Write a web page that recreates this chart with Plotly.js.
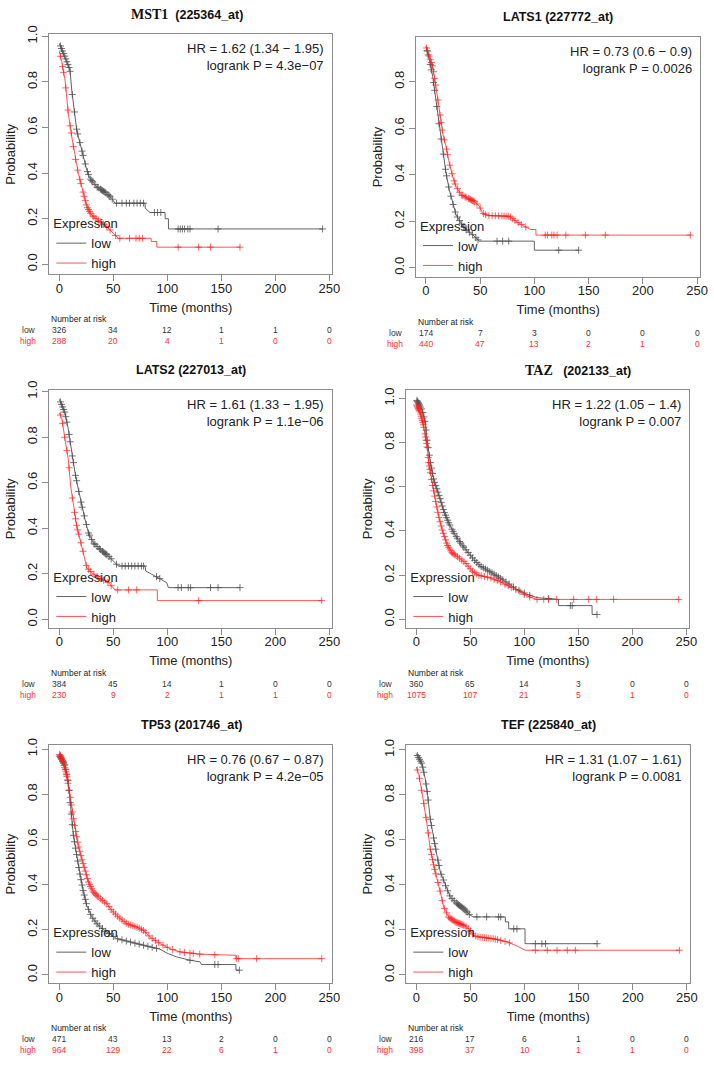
<!DOCTYPE html>
<html>
<head>
<meta charset="utf-8">
<script src="https://cdn.plot.ly/plotly-3.0.1.min.js"></script>
<style>
html, body { margin: 0; padding: 0; background: #fff; }
#chart { width: 714px; height: 1065px; }
</style>
</head>
<body>
<div id="chart"></div>
<script>
// ---- Kaplan-Meier curves (time in months, survival prob) ----

// MST1 (225364_at)
const mst1LowT = [0, 5.3, 9.9, 11.5, 13, 16.1, 19.2, 22.3, 25.4, 28.4, 34.6, 43.9, 48.5, 51.6, 79.4, 79.5, 84, 97.9, 98, 101, 101.1, 243.8];
const mst1LowS = [0.969, 0.91, 0.852, 0.764, 0.706, 0.589, 0.53, 0.472, 0.414, 0.377, 0.34, 0.311, 0.289, 0.268, 0.268, 0.246, 0.227, 0.227, 0.2, 0.2, 0.155, 0.155];
const mst1LowCens = [1, 2, 3, 4, 5, 6, 7, 8, 9, 10, 12, 14, 16, 17, 19, 21, 22, 24, 26, 27, 29, 30, 31, 33, 35, 36, 38, 39, 40, 41, 42, 43, 45, 46, 47, 49, 53, 58, 62, 65, 69, 72, 75, 78, 88, 91, 94, 110, 112, 114, 116, 119, 121, 147, 243.8];
const mst1HighT = [0, 2.2, 5.3, 6.8, 8.3, 11.5, 14.5, 17.6, 22.3, 25.4, 30, 37.7, 43.9, 50, 54.6, 85, 85.1, 90.2, 90.3, 167.3];
const mst1HighS = [0.932, 0.889, 0.808, 0.735, 0.662, 0.56, 0.472, 0.399, 0.311, 0.253, 0.216, 0.187, 0.165, 0.136, 0.114, 0.114, 0.1, 0.1, 0.075, 0.075];
const mst1HighCens = [1, 3, 4, 6, 8, 10, 11, 13, 15, 17, 19, 20, 22, 23, 24, 25, 26, 27, 28, 29, 31, 32, 34, 36, 38, 41, 44, 47, 52, 56, 65, 71, 74, 77, 110, 129, 140, 167.3];
const mst1RiskLow = [326, 34, 12, 1, 1, 0];
const mst1RiskHigh = [288, 20, 4, 1, 0, 0];

// LATS1 (227772_at)
const lats1LowT = [0, 3.1, 6.2, 9.2, 12.3, 15.4, 18.5, 21.5, 24.6, 27.7, 32.3, 36.9, 43, 49.2, 99.9, 100, 140.8];
const lats1LowS = [0.952, 0.895, 0.823, 0.723, 0.608, 0.508, 0.407, 0.335, 0.278, 0.228, 0.192, 0.163, 0.142, 0.114, 0.114, 0.075, 0.075];
const lats1LowCens = [1, 2, 4, 5, 7, 8, 10, 12, 14, 16, 18, 19, 21, 23, 25, 27, 29, 31, 33, 35, 37, 40, 43, 46, 48, 65.5, 70.7, 76.3, 122.4, 140.8];
const lats1HighT = [0, 6.2, 9.2, 12.3, 15.4, 18.5, 21.5, 24.6, 27.7, 32.3, 38.4, 44.5, 49.2, 52.2, 56.8, 76.8, 83, 90.6, 96.8, 101.4, 101.5, 243.8];
const lats1HighS = [0.952, 0.866, 0.78, 0.679, 0.579, 0.522, 0.45, 0.393, 0.35, 0.314, 0.299, 0.285, 0.264, 0.235, 0.224, 0.221, 0.2, 0.178, 0.164, 0.164, 0.14, 0.14];
const lats1HighCens = [0.5, 1.5, 3, 4, 5, 6, 7, 8, 9, 11, 13, 14, 15, 17, 19, 20, 22, 24, 26, 27, 29, 31, 33, 34, 36, 37, 39, 40, 41, 42, 43, 44, 45, 47, 50, 53, 55, 58, 61, 64, 67, 70, 72, 74, 76, 78, 80, 82, 85, 88, 92, 110, 112, 116, 118, 121, 129, 147, 165.4, 243.8];
const lats1RiskLow = [174, 7, 3, 0, 0, 0];
const lats1RiskHigh = [440, 47, 13, 2, 1, 0];

// LATS2 (227013_at)
const lats2LowT = [0, 5.3, 8.3, 11.5, 14.5, 17.6, 20.7, 23.8, 26.9, 31.5, 37.7, 45.4, 50, 54.6, 79.4, 80, 85.5, 91.7, 99.4, 101, 167.3];
const lats2LowS = [0.966, 0.907, 0.834, 0.732, 0.644, 0.571, 0.498, 0.439, 0.38, 0.336, 0.307, 0.278, 0.256, 0.234, 0.234, 0.212, 0.198, 0.183, 0.161, 0.139, 0.139];
const lats2LowCens = [1, 2, 3, 4, 5, 6, 7, 9, 10, 12, 13, 15, 16, 18, 20, 21, 23, 25, 27, 28, 30, 32, 33, 35, 37, 38, 40, 41, 42, 43, 44, 46, 48, 53, 58, 61, 64, 67, 70, 73, 76, 78, 90, 93, 110, 113, 119.4, 121.6, 140, 147, 167.3];
const lats2HighT = [0, 2.2, 5.3, 8.3, 10.5, 13, 16.1, 19.2, 22.3, 25.4, 30, 36.1, 45.4, 51.6, 90.7, 90.8, 243];
const lats2HighS = [0.907, 0.885, 0.79, 0.703, 0.585, 0.498, 0.41, 0.351, 0.293, 0.227, 0.205, 0.183, 0.161, 0.129, 0.129, 0.082, 0.082];
const lats2HighCens = [1, 3, 5, 7, 9, 12, 14, 15, 16, 17, 18, 20, 22, 25, 27, 29, 32, 35, 38, 41, 45, 48, 54, 64, 71.6, 129, 243];
const lats2RiskLow = [384, 45, 14, 1, 0, 0];
const lats2RiskHigh = [230, 9, 2, 1, 1, 0];

// TAZ (202133_at)
const tazLowT = [0, 5.3, 8.3, 9.9, 13, 16.1, 19.2, 22.2, 25.4, 30, 34.6, 40.7, 46.9, 53.1, 59.3, 67, 74.7, 84, 93.2, 102.5, 111.8, 131.7, 131.8, 162.7, 162.8, 167.3];
const tazLowS = [0.995, 0.95, 0.89, 0.814, 0.709, 0.633, 0.588, 0.543, 0.49, 0.437, 0.392, 0.347, 0.309, 0.271, 0.241, 0.219, 0.196, 0.166, 0.136, 0.113, 0.098, 0.09, 0.062, 0.062, 0.022, 0.022];
const tazLowCens = [0.5, 1, 1.5, 2, 2.5, 3, 4, 5, 6, 7, 8, 9, 10, 11, 12, 13, 14, 15, 16, 17, 18, 19, 20, 21, 22, 23, 24, 25, 26, 27, 28, 29, 30, 31, 33, 34, 35, 37, 38, 40, 41, 43, 44, 46, 48, 50, 52, 54, 56, 58, 60, 62, 64, 66, 68, 70, 72, 74, 76, 78, 80, 83, 86, 90, 95, 100, 105, 122.5, 142.6, 144.3, 167.3];
const tazHighT = [0, 3.7, 6.8, 9.9, 11.5, 14.5, 17.6, 20.7, 23.8, 28.4, 33.1, 39.3, 45.4, 51.6, 57.8, 68.5, 76.3, 84, 93.2, 102.5, 111.8, 243];
const tazHighS = [0.973, 0.935, 0.875, 0.784, 0.709, 0.618, 0.543, 0.467, 0.407, 0.339, 0.301, 0.279, 0.256, 0.219, 0.199, 0.188, 0.173, 0.154, 0.133, 0.105, 0.09, 0.09];
const tazHighCens = [0.3, 0.8, 1.3, 1.8, 2.3, 2.8, 3.3, 4, 4.5, 5, 5.5, 6, 6.5, 7, 8, 8.5, 9, 9.5, 10, 11, 11.5, 12, 12.5, 13, 14, 15, 16, 17, 18, 19, 20, 21, 22, 23, 24, 25, 26, 27, 28, 29, 30, 31, 32, 33, 34, 35, 36, 38, 40, 42, 44, 46, 48, 50, 52, 54, 56, 58, 60, 63, 66, 69, 72, 75, 78, 82, 85, 88, 92, 96, 100, 105, 111.7, 118, 122.5, 130, 145.7, 159.6, 167, 182.7, 243];
const tazRiskLow = [360, 65, 14, 3, 0, 0];
const tazRiskHigh = [1075, 107, 21, 5, 1, 0];

// TP53 (201746_at)
const tp53LowT = [0, 5.3, 8.3, 10.5, 13, 16.1, 19.2, 22.3, 25.4, 30, 36.1, 43.9, 53.1, 65.5, 80.9, 93.2, 100.9, 108.6, 121, 130.2, 131.8, 163.5, 163.6, 166.7];
const tp53LowS = [0.972, 0.928, 0.854, 0.736, 0.618, 0.53, 0.441, 0.367, 0.308, 0.257, 0.22, 0.19, 0.161, 0.146, 0.128, 0.114, 0.094, 0.08, 0.065, 0.058, 0.046, 0.046, 0.021, 0.021];
const tp53LowCens = [0.5, 1, 1.5, 2, 3, 3.5, 4, 5, 6, 7, 8, 9, 10, 11, 12, 13, 14, 15, 16, 17, 18, 19, 20, 21, 22, 23, 24, 25, 27, 29, 31, 33, 35, 37, 40, 43, 46, 50, 54, 58, 62, 66, 70, 74, 78, 82, 86, 90, 121, 144, 147, 166.7];
const tp53HighT = [0, 3.7, 6.8, 9.3, 11.5, 14.5, 17.6, 20.7, 23.8, 26.9, 31.5, 37.7, 43.9, 48.5, 54.6, 62.4, 71.7, 77.8, 84, 93.2, 102.5, 111.8, 130.2, 151.8, 163.5, 163.6, 243];
const tp53HighS = [0.979, 0.942, 0.884, 0.81, 0.736, 0.647, 0.574, 0.515, 0.463, 0.412, 0.367, 0.338, 0.316, 0.286, 0.257, 0.227, 0.212, 0.198, 0.168, 0.139, 0.116, 0.102, 0.092, 0.087, 0.087, 0.072, 0.072];
const tp53HighCens = [0.3, 0.7, 1, 1.5, 2, 2.5, 3, 3.5, 4, 4.5, 5, 5.5, 6, 6.5, 7, 7.5, 8, 9, 10, 11, 12, 13, 14, 15, 16, 17, 18, 19, 20, 21, 22, 23, 24, 25, 26, 27, 28, 29, 30, 31, 32, 33, 34, 35, 36, 38, 40, 42, 44, 46, 48, 50, 52, 54, 56, 58, 60, 62, 64, 66, 68, 70, 72, 74, 76, 78, 80, 83, 86, 89, 92, 96, 100, 105, 111.7, 116, 121, 124, 130, 144, 164, 165.7, 182.7, 243];
const tp53RiskLow = [471, 43, 13, 2, 0, 0];
const tp53RiskHigh = [964, 129, 22, 6, 1, 0];

// TEF (225840_at)
const tefLowT = [0, 5.3, 8.3, 10.5, 12.9, 16.1, 19.1, 22.2, 26.8, 31.4, 37.6, 43.8, 49.9, 53, 82.2, 82.3, 85.3, 85.4, 100.4, 100.5, 167];
const tefLowS = [0.984, 0.939, 0.872, 0.799, 0.695, 0.606, 0.532, 0.458, 0.399, 0.347, 0.317, 0.295, 0.265, 0.258, 0.258, 0.236, 0.236, 0.205, 0.205, 0.139, 0.139];
const tefLowCens = [1, 2, 3, 4, 5, 6, 7, 9, 10, 11, 13, 14, 16, 17, 18, 20, 21, 23, 25, 27, 29, 31, 33, 35, 37, 38, 39, 40, 41, 42, 43, 44, 45, 46, 47, 49, 56, 65, 76, 78, 90, 93, 110, 116, 119.4, 167];
const tefHighT = [0, 2.2, 5.3, 8.3, 10.5, 12.9, 16.1, 19.1, 22.2, 25.3, 29.9, 36, 43.8, 48.4, 53, 57.6, 71.5, 83.8, 93, 100.7, 243];
const tefHighS = [0.924, 0.895, 0.813, 0.724, 0.65, 0.561, 0.487, 0.428, 0.369, 0.302, 0.258, 0.236, 0.221, 0.206, 0.176, 0.169, 0.161, 0.147, 0.129, 0.11, 0.11];
const tefHighCens = [1, 3, 5, 7, 9, 11, 13, 14, 15, 16, 17, 18, 20, 22, 24, 26, 28, 30, 31, 32, 33, 34, 35, 36, 37, 38, 39, 40, 41, 42, 43, 44, 46, 48, 50, 52, 55, 57, 59, 61, 63, 65, 67, 69, 71, 73, 75, 78, 82, 86, 110, 121, 130, 139.5, 147, 243];
const tefRiskLow = [216, 17, 6, 1, 0, 0];
const tefRiskHigh = [398, 37, 10, 1, 1, 0];

// shared labels
const riskTimes = [0, 50, 100, 150, 200, 250];
const groupNames = ['low', 'high'];
const geneNames = ['MST1', 'LATS1', 'LATS2', 'TAZ', 'TP53', 'TEF'];
const probeIds = ['(225364_at)', '(227772_at)', '(227013_at)', '(202133_at)', '(201746_at)', '(225840_at)'];
const hrTexts = ['HR = 1.62 (1.34 \u2212 1.95)', 'HR = 0.73 (0.6 \u2212 0.9)', 'HR = 1.61 (1.33 \u2212 1.95)',
                 'HR = 1.22 (1.05 \u2212 1.4)', 'HR = 0.76 (0.67 \u2212 0.87)', 'HR = 1.31 (1.07 \u2212 1.61)'];
const pTexts = ['logrank P = 4.3e\u221207', 'logrank P = 0.0026', 'logrank P = 1.1e\u221206',
                'logrank P = 0.007', 'logrank P = 4.2e\u221205', 'logrank P = 0.0081'];

const curves = [
    [mst1LowT, mst1LowS, mst1LowCens, mst1HighT, mst1HighS, mst1HighCens, mst1RiskLow, mst1RiskHigh],
    [lats1LowT, lats1LowS, lats1LowCens, lats1HighT, lats1HighS, lats1HighCens, lats1RiskLow, lats1RiskHigh],
    [lats2LowT, lats2LowS, lats2LowCens, lats2HighT, lats2HighS, lats2HighCens, lats2RiskLow, lats2RiskHigh],
    [tazLowT, tazLowS, tazLowCens, tazHighT, tazHighS, tazHighCens, tazRiskLow, tazRiskHigh],
    [tp53LowT, tp53LowS, tp53LowCens, tp53HighT, tp53HighS, tp53HighCens, tp53RiskLow, tp53RiskHigh],
    [tefLowT, tefLowS, tefLowCens, tefHighT, tefHighS, tefHighCens, tefRiskLow, tefRiskHigh]
];

// ---- page geometry (pixels) ----
const W = 714, H = 1065;
const boxes = [
    { l: 49.3, r: 332.3, t: 34.3, b: 274.3, xr: [-9.3, 252.8], yr: [-0.044, 1.009], tx: 187, ty: 15, serif: true },
    { l: 416, r: 700.3, t: 37.3, b: 276.7, xr: [-9.2, 253], yr: [-0.039, 0.991], tx: 558, ty: 17 },
    { l: 49.3, r: 332.3, t: 390, b: 627.7, xr: [-9.3, 252.8], yr: [-0.037, 1.007], tx: 191, ty: 370 },
    { l: 406.3, r: 689.3, t: 390, b: 627.7, xr: [-9.3, 252.8], yr: [-0.038, 1.038], tx: 578, ty: 370, serif: true, gap: '\u00a0\u00a0\u00a0' },
    { l: 49.3, r: 332.3, t: 745, b: 983.3, xr: [-9.3, 252.8], yr: [-0.037, 1.018], tx: 191, ty: 725 },
    { l: 406.3, r: 690.3, t: 745, b: 983.3, xr: [-9.2, 253.1], yr: [-0.037, 1.022], tx: 548, ty: 725 }
];

const SANS = 'Liberation Sans, Arial, sans-serif';
const SERIF = 'Liberation Serif, Times New Roman, serif';
const TXT = '#222';
const LINE_COL = '#8c8c8c';
const LOW_COL = '#505050';
const HIGH_COL = 'rgba(255,30,30,0.85)';
const LOW_TXT = '#333';
const HIGH_TXT = '#ff3030';

// survival value of a curve at time t (places the censoring ticks on the curve)
function survAt(T, S, t) {
    for (let i = 1; i < T.length; i++) {
        if (t <= T[i]) {
            const f = (t - T[i - 1]) / ((T[i] - T[i - 1]) || 1);
            return S[i - 1] + f * (S[i] - S[i - 1]);
        }
    }
    return S[S.length - 1];
}

const traces = [];
const annotations = [];
const layout = {
    width: W, height: H,
    margin: { l: 0, r: 0, t: 0, b: 0 },
    paper_bgcolor: '#fff', plot_bgcolor: '#fff',
    font: { family: SANS, size: 13, color: TXT },
    showlegend: true,
    annotations: annotations
};

boxes.forEach((bx, i) => {
    const k = i + 1;
    const xa = 'x' + (k > 1 ? k : ''), ya = 'y' + (k > 1 ? k : '');
    const legName = 'legend' + (k > 1 ? k : '');
    const [lowT, lowS, lowC, highT, highS, highC, riskLow, riskHigh] = curves[i];

    const groups = [
        { T: lowT, S: lowS, C: lowC, col: LOW_COL, name: groupNames[0] },
        { T: highT, S: highS, C: highC, col: HIGH_COL, name: groupNames[1] }
    ];
    groups.forEach((g, gi) => {
        traces.push({
            x: g.T, y: g.S, type: 'scatter', mode: 'lines',
            line: { color: g.col, width: 0.9 },
            name: g.name, legend: legName, legendrank: gi + 1,
            xaxis: xa, yaxis: ya, hoverinfo: 'skip'
        });
        traces.push({
            x: g.C, y: g.C.map(t => survAt(g.T, g.S, t)), type: 'scatter', mode: 'markers',
            marker: { symbol: 'cross-thin', size: 5, color: g.col, line: { color: g.col, width: 0.8 } },
            showlegend: false, xaxis: xa, yaxis: ya, hoverinfo: 'skip'
        });
    });

    const axBase = {
        showgrid: false, zeroline: false, showline: true, mirror: true,
        linecolor: LINE_COL, linewidth: 1,
        ticks: 'outside', ticklen: 6, tickcolor: LINE_COL, tickwidth: 1,
        tickfont: { family: SANS, size: 13, color: TXT },
        fixedrange: true
    };
    layout['xaxis' + (k > 1 ? k : '')] = Object.assign({}, axBase, {
        domain: [bx.l / W, bx.r / W], range: bx.xr, anchor: ya,
        tickmode: 'linear', tick0: 0, dtick: 50, ticklabelstandoff: -4,
        title: { text: 'Time (months)', font: { family: SANS, size: 13, color: TXT }, standoff: 7 }
    });
    layout['yaxis' + (k > 1 ? k : '')] = Object.assign({}, axBase, {
        domain: [1 - bx.b / H, 1 - bx.t / H], range: bx.yr, anchor: xa,
        tickmode: 'linear', tick0: 0, dtick: 0.2, tickformat: '.1f', tickangle: -90,
        title: { text: 'Probability', font: { family: SANS, size: 13, color: TXT }, standoff: 6 }
    });

    layout[legName] = {
        x: (bx.l + 2) / W, y: 1 - (bx.b + 4) / H, xanchor: 'left', yanchor: 'bottom',
        bgcolor: 'rgba(0,0,0,0)', borderwidth: 0,
        font: { family: SANS, size: 13, color: TXT },
        title: { text: 'Expression', font: { family: SANS, size: 13, color: TXT } },
        tracegroupgap: 0
    };

    // panel title
    const gene = bx.serif
        ? '<span style="font-family:' + SERIF + ';font-size:14px">' + geneNames[i] + '</span>'
        : geneNames[i];
    const gap = bx.gap || (bx.serif ? '\u00a0\u00a0' : ' ');
    annotations.push({
        xref: 'paper', yref: 'paper', x: bx.tx / W, y: 1 - bx.ty / H,
        xanchor: 'center', yanchor: 'middle', showarrow: false,
        text: '<b>' + gene + gap + probeIds[i] + '</b>',
        font: { family: SANS, size: 12.5, color: '#111' }
    });

    // HR / logrank text
    annotations.push({
        xref: xa + ' domain', yref: ya + ' domain', x: 1, y: 1,
        xanchor: 'right', yanchor: 'top', xshift: -6, yshift: -5,
        align: 'right', showarrow: false,
        text: hrTexts[i] + '<br>' + pTexts[i],
        font: { family: SANS, size: 13, color: TXT }
    });

    // number at risk table
    annotations.push({
        xref: xa + ' domain', yref: ya + ' domain', x: 0, y: 0,
        xanchor: 'left', yanchor: 'middle', yshift: -45, showarrow: false,
        text: 'Number at risk', font: { family: SANS, size: 8.5, color: TXT }
    });
    [[riskLow, LOW_TXT, groupNames[0], -56], [riskHigh, HIGH_TXT, groupNames[1], -67]].forEach(row => {
        const [vals, col, lab, dy] = row;
        annotations.push({
            xref: xa, yref: ya + ' domain', x: 0, y: 0, xshift: -21,
            xanchor: 'right', yanchor: 'middle', yshift: dy, showarrow: false,
            text: lab, font: { family: SANS, size: 8.5, color: col }
        });
        vals.forEach((v, j) => {
            annotations.push({
                xref: xa, yref: ya + ' domain', x: riskTimes[j], y: 0,
                xanchor: 'center', yanchor: 'middle', yshift: dy, showarrow: false,
                text: String(v), font: { family: SANS, size: 8.5, color: col }
            });
        });
    });
});

Plotly.newPlot('chart', traces, layout, { staticPlot: true, displayModeBar: false });
</script>
</body>
</html>
